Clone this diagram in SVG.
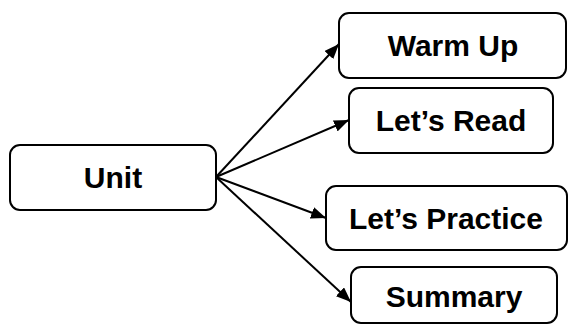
<svg xmlns="http://www.w3.org/2000/svg" width="568" height="327" viewBox="0 0 568 327">
<style>
.box{fill:#fff;stroke:#000;stroke-width:2}
.lbl{font-family:"Liberation Sans",Arial,sans-serif;font-weight:bold;font-size:30px;fill:#000;text-anchor:middle}
.edge{stroke:#000;stroke-width:2;fill:none}
</style>
<defs>
<marker id="ah" markerUnits="userSpaceOnUse" markerWidth="16" markerHeight="12" refX="15" refY="6" orient="auto">
<path d="M0,0 L15,6 L0,12 z" fill="#000"/>
</marker>
</defs>
<rect width="568" height="327" fill="#fff"/>
<g id="connectors">
<line class="edge" x1="216" y1="177" x2="339" y2="44" marker-end="url(#ah)"/>
<line class="edge" x1="216" y1="177" x2="349" y2="120" marker-end="url(#ah)"/>
<line class="edge" x1="216" y1="177" x2="326" y2="218" marker-end="url(#ah)"/>
<line class="edge" x1="216" y1="177" x2="351" y2="302" marker-end="url(#ah)"/>
</g>
<g id="unit">
<rect class="box" x="10" y="145" width="206" height="65" rx="10"/>
<text class="lbl" x="113" y="188">Unit</text>
</g>
<g id="warmup">
<rect class="box" x="339" y="13" width="227" height="65" rx="10"/>
<text class="lbl" x="453" y="56">Warm Up</text>
</g>
<g id="letsread">
<rect class="box" x="349" y="88" width="204" height="65" rx="10"/>
<text class="lbl" x="451" y="131">Let’s Read</text>
</g>
<g id="letspractice">
<rect class="box" x="326" y="186" width="241" height="64" rx="10"/>
<text class="lbl" x="446" y="229">Let’s Practice</text>
</g>
<g id="summary">
<rect class="box" x="351" y="267" width="206" height="56" rx="10"/>
<text class="lbl" x="454" y="307">Summary</text>
</g>
</svg>
